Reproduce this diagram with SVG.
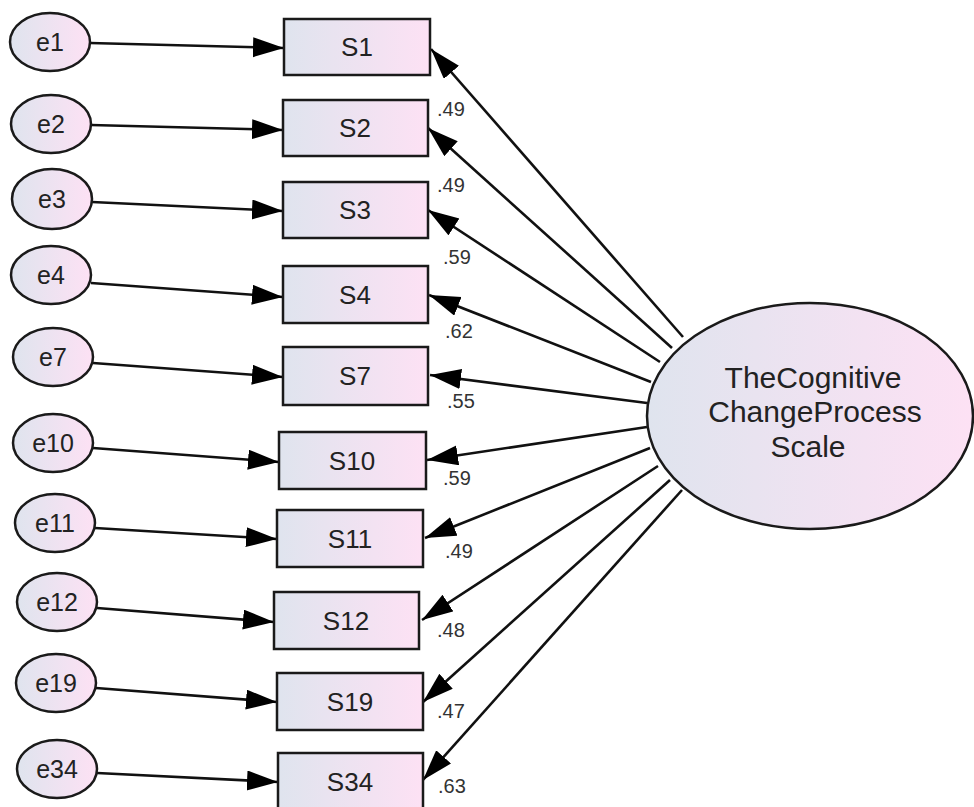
<svg xmlns="http://www.w3.org/2000/svg" width="974" height="807" viewBox="0 0 974 807">
  <style>
    .obs { fill: url(#fillGrad); stroke: #1a1a1a; stroke-width: 2.5; }
    .err { fill: url(#fillGrad); stroke: #1a1a1a; stroke-width: 2.5; }
    .lat { fill: url(#fillGrad); stroke: #1a1a1a; stroke-width: 2.5; }
    .path { stroke: #111; stroke-width: 2.6; fill: none; marker-end: url(#arrow); }
    .lbl { font-family: "Liberation Sans", Arial, sans-serif; fill: #222; text-anchor: middle; }
    .obs-t { font-size: 26px; }
    .err-t { font-size: 25px; }
    .lat-t { font-size: 30px; }
    .coef { font-family: "Liberation Sans", Arial, sans-serif; font-size: 20px; fill: #333; }
  </style>
  <defs>
    <linearGradient id="fillGrad" x1="0" y1="0" x2="1" y2="0">
      <stop offset="0" stop-color="#dfe4ee"/>
      <stop offset="1" stop-color="#fde1f4"/>
    </linearGradient>
    <marker id="arrow" markerUnits="userSpaceOnUse" markerWidth="32" markerHeight="22" refX="31" refY="10" orient="auto">
      <path d="M0,0 L31,10 L0,20 Z" fill="#000"/>
    </marker>
  </defs>
  <rect width="974" height="807" fill="#fff"/>

  <!-- paths: errors to indicators, factor to indicators -->
  <g id="connectors">
    <line class="path" x1="90" y1="43" x2="284" y2="48"/>
    <line class="path" x1="91" y1="125" x2="283" y2="130"/>
    <line class="path" x1="92" y1="202" x2="283" y2="211"/>
    <line class="path" x1="91" y1="283" x2="283" y2="297"/>
    <line class="path" x1="93" y1="363" x2="283" y2="377"/>
    <line class="path" x1="93" y1="448" x2="279" y2="462"/>
    <line class="path" x1="95" y1="528" x2="277" y2="539"/>
    <line class="path" x1="97" y1="608" x2="274" y2="622"/>
    <line class="path" x1="96" y1="688" x2="277" y2="702"/>
    <line class="path" x1="97" y1="773" x2="278" y2="782"/>

    <line class="path" x1="683" y1="337" x2="431" y2="49"/>
    <line class="path" x1="672" y1="348" x2="428" y2="128"/>
    <line class="path" x1="660" y1="362" x2="428" y2="210"/>
    <line class="path" x1="651" y1="382" x2="429" y2="295"/>
    <line class="path" x1="647" y1="403" x2="430" y2="375"/>
    <line class="path" x1="647" y1="427" x2="427" y2="460"/>
    <line class="path" x1="650" y1="448" x2="425" y2="538"/>
    <line class="path" x1="658" y1="466" x2="422" y2="620"/>
    <line class="path" x1="670" y1="480" x2="423" y2="702"/>
    <line class="path" x1="682" y1="490" x2="423" y2="780"/>
  </g>

  <!-- standardized loadings -->
  <g id="coefficients">
    <text class="coef" x="437" y="116">.49</text>
    <text class="coef" x="437" y="192">.49</text>
    <text class="coef" x="443" y="264">.59</text>
    <text class="coef" x="445" y="338">.62</text>
    <text class="coef" x="447" y="408">.55</text>
    <text class="coef" x="443" y="485">.59</text>
    <text class="coef" x="445" y="558">.49</text>
    <text class="coef" x="437" y="637">.48</text>
    <text class="coef" x="437" y="718">.47</text>
    <text class="coef" x="438" y="793">.63</text>
  </g>

  <!-- error terms -->
  <g id="e1"><ellipse class="err" cx="50" cy="42" rx="40" ry="29"/><text class="lbl err-t" x="50" y="51">e1</text></g>
  <g id="e2"><ellipse class="err" cx="51" cy="124" rx="40" ry="29"/><text class="lbl err-t" x="51" y="133">e2</text></g>
  <g id="e3"><ellipse class="err" cx="52" cy="199" rx="40" ry="30"/><text class="lbl err-t" x="52" y="208">e3</text></g>
  <g id="e4"><ellipse class="err" cx="51" cy="275" rx="40" ry="29"/><text class="lbl err-t" x="51" y="284">e4</text></g>
  <g id="e7"><ellipse class="err" cx="53" cy="357" rx="40" ry="29"/><text class="lbl err-t" x="53" y="366">e7</text></g>
  <g id="e10"><ellipse class="err" cx="53" cy="443" rx="40" ry="29"/><text class="lbl err-t" x="53" y="452">e10</text></g>
  <g id="e11"><ellipse class="err" cx="55" cy="523" rx="40" ry="29"/><text class="lbl err-t" x="55" y="532">e11</text></g>
  <g id="e12"><ellipse class="err" cx="57" cy="602" rx="40" ry="29"/><text class="lbl err-t" x="57" y="611">e12</text></g>
  <g id="e19"><ellipse class="err" cx="56" cy="683" rx="40" ry="29"/><text class="lbl err-t" x="56" y="692">e19</text></g>
  <g id="e34"><ellipse class="err" cx="57" cy="769" rx="40" ry="29"/><text class="lbl err-t" x="57" y="778">e34</text></g>

  <!-- observed items -->
  <g id="S1"><rect class="obs" x="284" y="19" width="146" height="56"/><text class="lbl obs-t" x="357" y="56">S1</text></g>
  <g id="S2"><rect class="obs" x="283" y="100" width="145" height="56"/><text class="lbl obs-t" x="355" y="137">S2</text></g>
  <g id="S3"><rect class="obs" x="283" y="182" width="145" height="56"/><text class="lbl obs-t" x="355" y="219">S3</text></g>
  <g id="S4"><rect class="obs" x="283" y="266" width="145" height="57"/><text class="lbl obs-t" x="355" y="304">S4</text></g>
  <g id="S7"><rect class="obs" x="283" y="347" width="145" height="58"/><text class="lbl obs-t" x="355" y="385">S7</text></g>
  <g id="S10"><rect class="obs" x="279" y="432" width="147" height="57"/><text class="lbl obs-t" x="352" y="470">S10</text></g>
  <g id="S11"><rect class="obs" x="277" y="510" width="146" height="57"/><text class="lbl obs-t" x="350" y="548">S11</text></g>
  <g id="S12"><rect class="obs" x="274" y="592" width="145" height="57"/><text class="lbl obs-t" x="346" y="630">S12</text></g>
  <g id="S19"><rect class="obs" x="277" y="673" width="146" height="57"/><text class="lbl obs-t" x="350" y="711">S19</text></g>
  <g id="S34"><rect class="obs" x="278" y="753" width="145" height="57"/><text class="lbl obs-t" x="350" y="791">S34</text></g>

  <!-- latent factor -->
  <g id="factor">
    <ellipse class="lat" cx="810" cy="416" rx="163" ry="113"/>
    <text class="lbl lat-t" x="813" y="388">TheCognitive</text>
    <text class="lbl lat-t" x="815" y="422">ChangeProcess</text>
    <text class="lbl lat-t" x="808" y="457">Scale</text>
  </g>
</svg>
